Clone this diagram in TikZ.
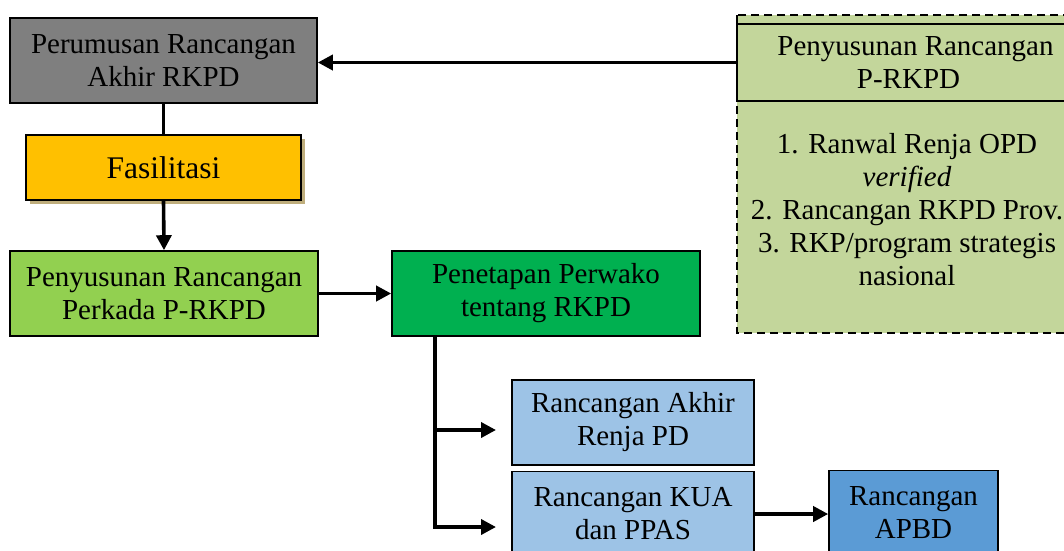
\documentclass[tikz,border=0pt]{standalone}
\usepackage{fontspec}
\setmainfont{Liberation Serif}
\usetikzlibrary{arrows.meta,calc}
\definecolor{cgray}{HTML}{7F7F7F}
\definecolor{cgold}{HTML}{FFC000}
\definecolor{clime}{HTML}{92D050}
\definecolor{cgreen}{HTML}{00B050}
\definecolor{clblue}{HTML}{9DC3E6}
\definecolor{cblue}{HTML}{5B9BD5}
\definecolor{colive}{HTML}{C3D69B}
\definecolor{cshadow}{HTML}{BFAE7D}
\begin{document}
\begin{tikzpicture}[x=1pt,y=-1pt,
  box/.style={draw=black,line width=1.6pt,rectangle,inner sep=0pt,align=center,
    font=\fontsize{29}{33}\selectfont},
  conn/.style={line width=3.6pt},
  arr/.style={line width=3.6pt,-{Triangle[length=15pt,width=15pt]}}]
\useasboundingbox (0,0) rectangle (1064,550);
% right dashed panel
\draw[fill=colive,dash pattern=on 8pt off 5pt,line width=1.8pt] (737,15) rectangle (1080,333);
\node[box,fill=colive,minimum width=343pt,minimum height=77pt] (title) at (908.5,62.5)
  {\hspace*{14pt}Penyusunan Rancangan\\P-RKPD};
\node[align=center,inner sep=0pt,font=\fontsize{29}{33}\selectfont] (list) at (907,210)
  {1. Ranwal Renja OPD\\\textit{verified}\\2. Rancangan RKPD Prov.\\3. RKP/program strategis\\nasional};
% left column
\node[box,fill=cgray,minimum width=307pt,minimum height=85pt] (peru) at (163.5,60.5)
  {Perumusan Rancangan\\Akhir RKPD};
\fill[cshadow] (30,139) rectangle (305,204);
\node[box,fill=cgold,minimum width=275pt,minimum height=65pt,
  font=\fontsize{31.5}{36}\selectfont] (fas) at (163.5,167.5) {Fasilitasi};
\node[box,fill=clime,minimum width=308pt,minimum height=85pt] (perkada) at (164,293.5)
  {Penyusunan Rancangan\\Perkada P-RKPD};
\node[box,fill=cgreen,minimum width=308pt,minimum height=85pt] (pen) at (546,293.5)
  {Penetapan Perwako\\tentang RKPD};
% lower boxes
\node[box,fill=clblue,minimum width=242pt,minimum height=85pt] (renja) at (633,422.5)
  {Rancangan Akhir\\Renja PD};
\node[box,fill=clblue,minimum width=242pt,minimum height=85pt] (kua) at (633,514)
  {Rancangan KUA\\dan PPAS};
\node[box,fill=cblue,minimum width=169pt,minimum height=85pt] (apbd) at (913.5,513)
  {Rancangan\\APBD};
% connectors
\draw[arr] (title.west) -- (title.west -| peru.east);
\draw[conn] (peru.south) -- (fas.north);
\draw[arr] (fas.south) -- (perkada.north);
\draw[arr] (perkada.east) -- (pen.west);
\coordinate (bstart) at ($(pen.south west)+(44,0)$);
\coordinate (bend) at (bstart |- 0,527);
\coordinate (tipA) at (496,430);
\coordinate (tipB) at (496,527);
\draw[conn] (bstart) -- (bend) -- ([xshift=1pt]bend);
\draw[arr] (bstart |- tipA) -- (tipA);
\draw[arr] ([xshift=-1.8pt]bend) -- (tipB);
\draw[arr] (kua.east) -- (kua.east -| apbd.west);
\end{tikzpicture}
\end{document}
